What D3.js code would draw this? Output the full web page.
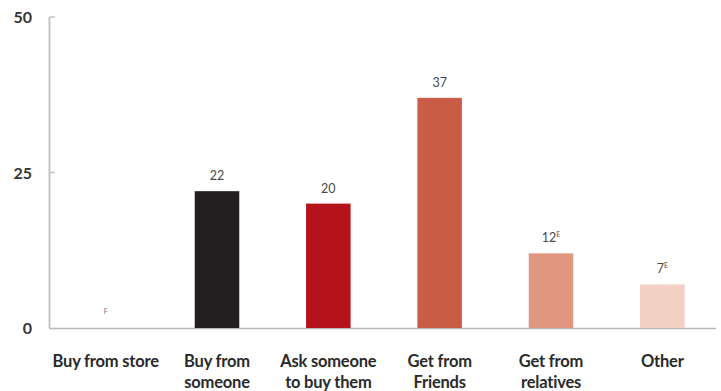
<!DOCTYPE html>
<html>
<head>
<meta charset="utf-8">
<script src="https://cdn.jsdelivr.net/npm/d3@7"></script>
<style>
  html, body { margin: 0; padding: 0; background: #fff; }
  svg text { font-family: Lato, "Open Sans", sans-serif; }
</style>
</head>
<body>
<svg id="chart" width="721" height="391"></svg>
<script>
// Sources of supply, percent
const categories = [
  ["Buy from store"],
  ["Buy from", "someone"],
  ["Ask someone", "to buy them"],
  ["Get from", "Friends"],
  ["Get from", "relatives"],
  ["Other"]
];
const values = [null, 22, 20, 37, 12, 7];
const valueLabels = ["", "22", "20", "37", "12", "7"];
const flags = ["F", "", "", "", "E", "E"];
const colors = ["#ffffff", "#231f20", "#b5121b", "#c95c46", "#e0967f", "#f2d1c4"];
const yTicks = [0, 25, 50];

const svg = d3.select("#chart");
const x = d3.scaleBand()
  .domain(d3.range(categories.length))
  .range([50, 718])
  .paddingInner(0.6)
  .paddingOuter(0.3);
const y = d3.scaleLinear().domain([0, 50]).range([328, 17]);

// y axis line and ticks
svg.append("line")
  .attr("x1", 49.5).attr("x2", 49.5)
  .attr("y1", y(50)).attr("y2", y(0))
  .attr("stroke", "#c4c4c4").attr("stroke-width", 2);
svg.selectAll(".ytick").data(yTicks.filter(d => d > 0)).join("line")
  .attr("x1", 49.5).attr("x2", 55)
  .attr("y1", d => y(d)).attr("y2", d => y(d))
  .attr("stroke", "#c4c4c4").attr("stroke-width", 1.5);
svg.selectAll(".ylab").data(yTicks).join("text")
  .attr("x", 32).attr("y", d => y(d) + 6)
  .attr("text-anchor", "end")
  .attr("font-size", 16).attr("font-weight", "bold")
  .attr("fill", "#333")
  .text(d => d);

// x baseline
svg.append("line")
  .attr("x1", 49).attr("x2", 716)
  .attr("y1", y(0) + 0.5).attr("y2", y(0) + 0.5)
  .attr("stroke", "#b8b8b8").attr("stroke-width", 1.5);

// bars
svg.selectAll(".bar").data(values).join("rect")
  .attr("x", (d, i) => x(i))
  .attr("width", x.bandwidth())
  .attr("y", d => d == null ? y(0) : y(d))
  .attr("height", d => d == null ? 0 : y(0) - y(d))
  .attr("fill", (d, i) => colors[i]);

// value labels with footnote flags
const vl = svg.selectAll(".val").data(values).join("text")
  .attr("x", (d, i) => x(i) + x.bandwidth() / 2)
  .attr("y", d => (d == null ? y(0) - 14 : y(d) - 11))
  .attr("text-anchor", "middle")
  .attr("font-size", 12.5).attr("fill", "#4a4a4a");
vl.append("tspan").text((d, i) => valueLabels[i]);
vl.append("tspan")
  .attr("font-size", 7)
  .attr("dy", (d, i) => valueLabels[i] === "" ? 0 : -5)
  .attr("fill", (d, i) => valueLabels[i] === "" ? "#777" : "#4a4a4a")
  .text((d, i) => flags[i]);

// category labels
categories.forEach((lines, i) => {
  const t = svg.append("text")
    .attr("x", x(i) + x.bandwidth() / 2)
    .attr("y", 367)
    .attr("text-anchor", "middle")
    .attr("font-size", 16.5).attr("font-weight", "bold")
    .attr("letter-spacing", -0.2)
    .attr("fill", "#2a2a2a");
  lines.forEach((ln, j) => {
    t.append("tspan")
      .attr("x", x(i) + x.bandwidth() / 2)
      .attr("dy", j === 0 ? 0 : 20.5)
      .text(ln);
  });
});
</script>
</body>
</html>
